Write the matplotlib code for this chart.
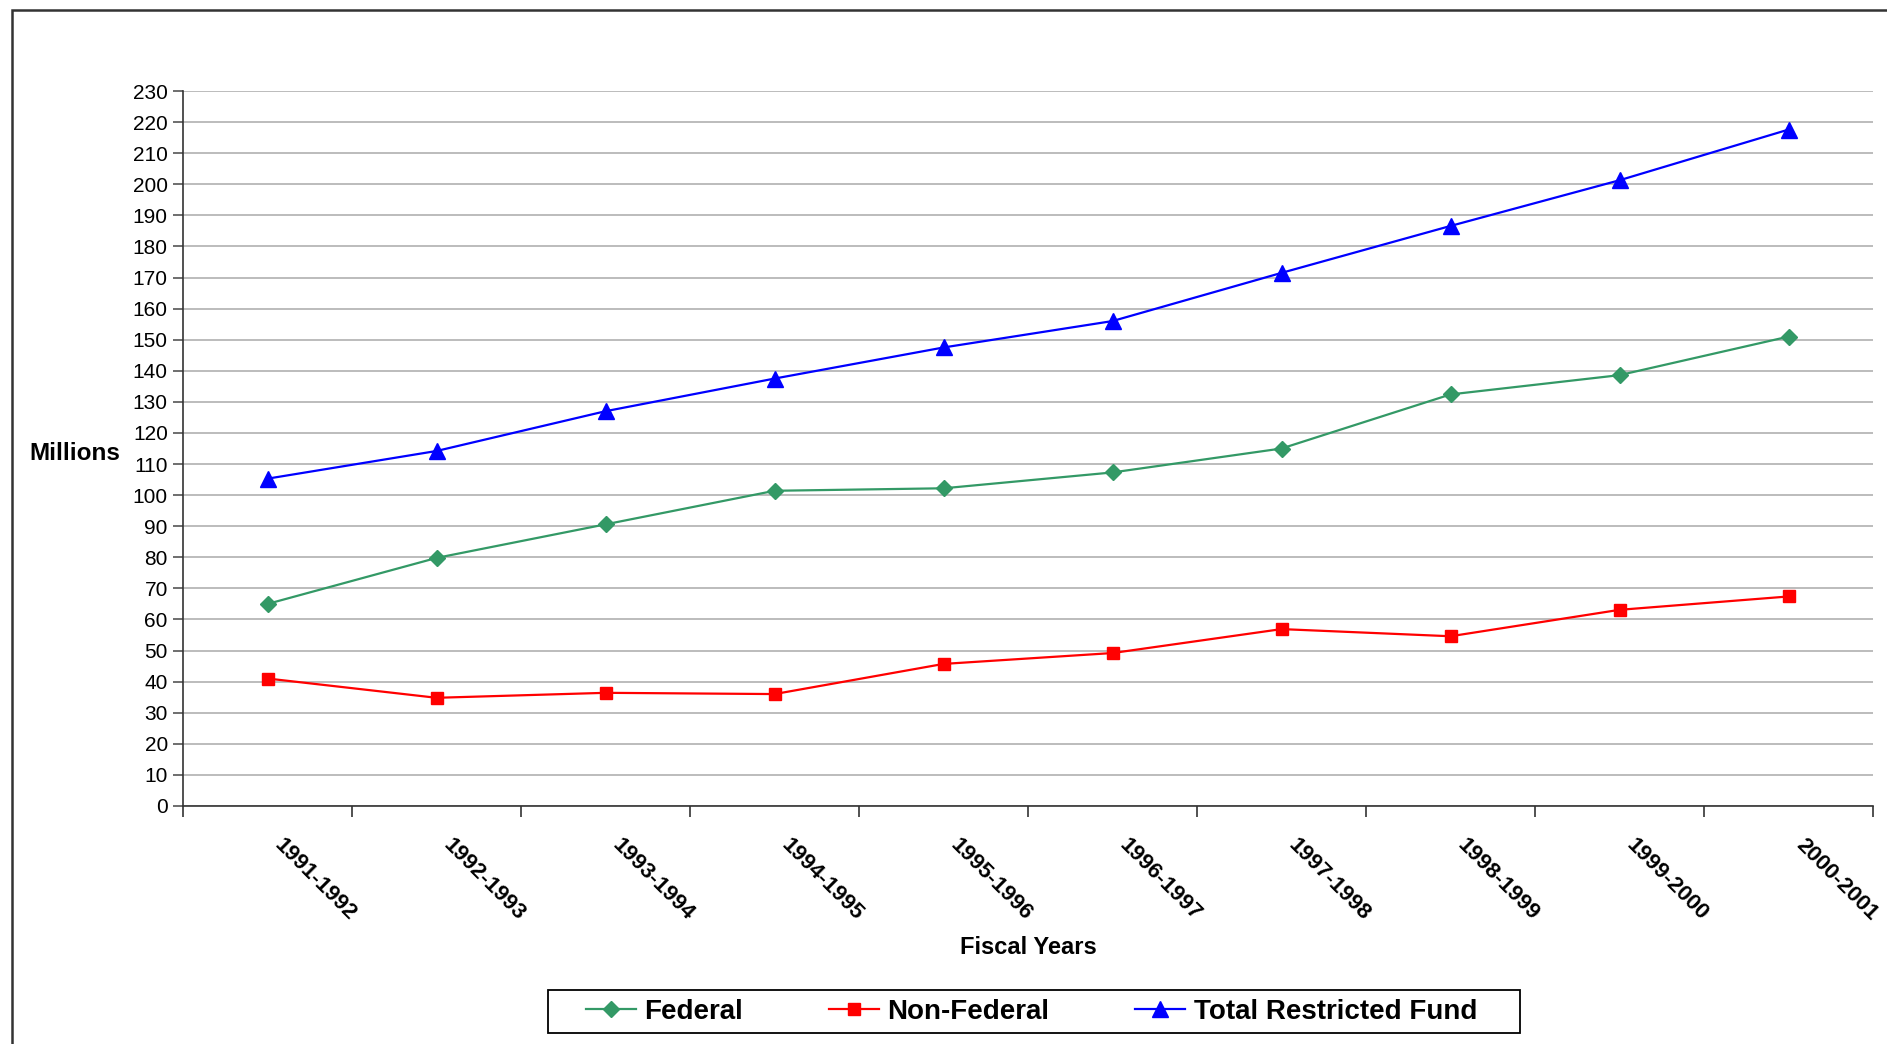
import matplotlib.pyplot as plt
from matplotlib.patches import Rectangle

plt.rcParams['font.family'] = ['Liberation Sans', 'DejaVu Sans']

years = ['1991-1992', '1992-1993', '1993-1994', '1994-1995', '1995-1996',
         '1996-1997', '1997-1998', '1998-1999', '1999-2000', '2000-2001']
federal = [65.0, 79.8, 90.6, 101.4, 102.2, 107.3, 115.0, 132.4, 138.6, 151.0]
non_federal = [41.0, 34.8, 36.4, 36.0, 45.7, 49.2, 56.9, 54.6, 63.1, 67.4]
total = [105.3, 114.2, 127.0, 137.5, 147.5, 156.0, 171.5, 186.6, 201.3, 217.6]

fig = plt.figure(figsize=(18.87, 10.44), dpi=100)
ax = fig.add_axes([0.097, 0.228, 0.8956, 0.6848])

# outer chart frame (runs off the right and bottom edges)
fig.patches.append(Rectangle((12 / 1887, -0.1), 1.2, 1 - 10 / 1044 + 0.1,
                             transform=fig.transFigure, fill=False,
                             edgecolor='#333333', linewidth=1.8, zorder=0))

x = list(range(len(years)))
ax.plot(x, federal, color='#339966', marker='D', markersize=8, linewidth=1.6,
        label='Federal')
ax.plot(x, non_federal, color='#FF0000', marker='s', markersize=9, linewidth=1.6,
        label='Non-Federal')
ax.plot(x, total, color='#0000FF', marker='^', markersize=12, linewidth=1.6,
        label='Total Restricted Fund')

ax.set_xlim(-0.5, len(years) - 0.5)
ax.set_ylim(0, 230)
ax.set_yticks(range(0, 231, 10))
ax.yaxis.grid(True, color='#B0B0B0', linewidth=1.2)
ax.set_axisbelow(True)
ax.tick_params(axis='y', labelsize=15, length=7, width=1.2, color='#555555', pad=4)

# labels sit slightly right of the category centre, tick marks between categories
ax.set_xticks([i + 0.06 for i in x])
ax.set_xticklabels(years, fontsize=16, fontweight='bold', rotation=-45,
                   ha='left', va='center', rotation_mode='anchor')
ax.set_xticks([i - 0.5 for i in range(len(years) + 1)], minor=True)
ax.tick_params(axis='x', which='major', length=0, pad=26)
ax.tick_params(axis='x', which='minor', length=8, width=1.2, color='#333333')

for s in ['top', 'right']:
    ax.spines[s].set_visible(False)
ax.spines['left'].set_color('#333333')
ax.spines['bottom'].set_color('#333333')
ax.spines['left'].set_linewidth(1.2)
ax.spines['bottom'].set_linewidth(1.2)

ax.set_xlabel('Fiscal Years', fontsize=17, fontweight='bold', labelpad=8)
ax.set_ylabel('Millions', fontsize=17.5, fontweight='bold', rotation=0,
              ha='right', va='center')
ax.yaxis.set_label_coords(-0.037, 0.493)

leg = fig.legend(loc='center', bbox_to_anchor=(0.5465, 0.0311), ncol=3,
                 prop={'size': 20, 'weight': 'bold'}, frameon=False,
                 handlelength=1.8, columnspacing=3.1, handletextpad=0.3)
# legend box drawn wider than the entries, as in the original
fig.patches.append(Rectangle((548 / 1887, 11 / 1044), 972 / 1887, 43 / 1044,
                             transform=fig.transFigure, fill=False,
                             edgecolor='black', linewidth=1.3))

fig.savefig('out.png', dpi=100)
